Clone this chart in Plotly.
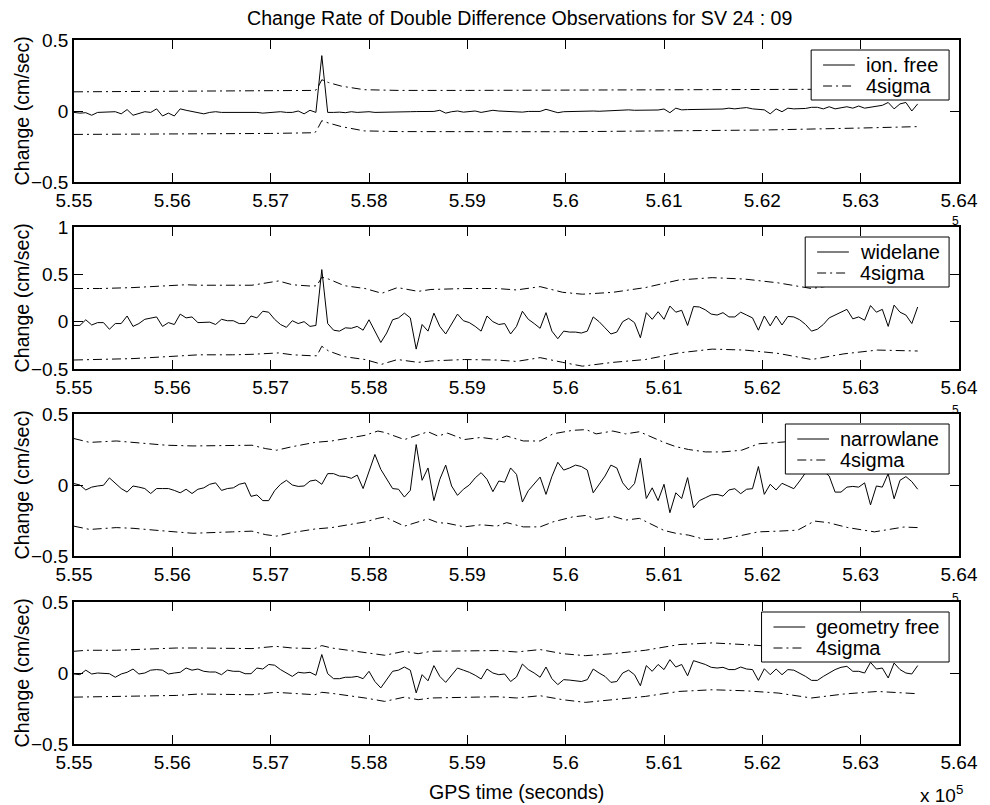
import numpy as np
import plotly.graph_objects as go

# ---- epochs: one sample every 60 s starting at 555000 s GPS time ----
T0 = 555000
DT = 60

# ---- change-rate series (cm/sec) ----
ion_free = [
    -0.01, -0.015, -0.012, -0.03, -0.01, -0.01, -0.005, -0.005, -0.02, 0.01,
    -0.03, -0.015, -0.005, -0.01, 0.015, -0.035, -0.015, -0.035, 0.015, 0.005,
    -0.005, -0.015, -0.02, -0.01, -0.005, -0.01, -0.01, -0.005, -0.01, -0.01,
    -0.005, -0.01, -0.015, -0.01, -0.01, -0.005, -0.01, -0.01, 0.0, -0.02,
    0.005, -0.01, 0.39, -0.01, -0.01, -0.008, -0.012, -0.005, -0.01, -0.008,
    -0.005, -0.01, -0.01, -0.008, -0.005, -0.006, -0.005, -0.005, -0.004, -0.004,
    -0.003, -0.003, 0.005, -0.015, -0.005, 0.0, -0.008, -0.003, 0.0, -0.01,
    -0.005, 0.005, 0.0, -0.002, -0.005, -0.005, -0.008, -0.003, -0.002, -0.003,
    0.012, 0.0, -0.012, -0.005, -0.003, -0.002, -0.003, -0.002, 0.0, -0.002,
    0.0, 0.003, 0.0, 0.004, 0.008, 0.005, 0.006, 0.003, 0.005, 0.007,
    0.014, -0.012, 0.02, 0.008, 0.01, 0.01, 0.012, 0.01, 0.012, 0.015,
    0.014, 0.02, 0.015, 0.02, 0.024, 0.015, 0.01, 0.008, -0.02, 0.015,
    -0.005, 0.02, 0.015, 0.015, 0.018, 0.026, 0.026, 0.015, 0.03, 0.015,
    0.02, 0.03, 0.02, 0.035, 0.02, 0.025, 0.03, 0.04, 0.06, 0.015,
    0.05, 0.06, 0.0, 0.05,
]

widelane = [
    -0.04, -0.04, 0.02, -0.035, -0.01, -0.01, -0.08, -0.02, -0.02, 0.06,
    -0.05, -0.02, 0.025, 0.035, 0.05, -0.05, -0.01, -0.03, 0.08, 0.04,
    0.05, -0.01, -0.01, -0.005, -0.03, 0.025, 0.01, 0.01, -0.02, -0.02,
    0.06, 0.04, 0.11, 0.1, 0.025, -0.03, -0.06, 0.01, -0.02, 0.0,
    -0.05, -0.04, 0.55, -0.02, -0.09, -0.1, -0.065, -0.07, -0.05, -0.09,
    0.02, -0.1, -0.22, -0.12, 0.02, 0.04, 0.09, 0.04, -0.29, -0.03,
    -0.1, 0.09, -0.05, -0.13, -0.03, 0.08, 0.01, -0.01, -0.05, -0.1,
    0.06, 0.0, -0.03, -0.02, -0.13, -0.05, 0.11, 0.025, -0.02, -0.07,
    0.095, -0.1, -0.18, -0.1, -0.11, -0.11, -0.12, -0.1, 0.05, 0.0,
    -0.065, -0.13, -0.11, 0.0, 0.035, -0.01, -0.17, 0.095, 0.025, 0.105,
    0.025, 0.165, 0.1, 0.12, -0.04, 0.16, 0.155, 0.125, 0.08, 0.07,
    0.095, 0.05, 0.05, 0.1, 0.07, 0.04, -0.09, 0.06, -0.045, 0.06,
    -0.035, 0.055, 0.05, 0.02, -0.03, -0.1, -0.08, -0.03, 0.04, 0.07,
    0.095, 0.13, 0.03, 0.05, 0.015, 0.17, 0.1, 0.13, -0.05, 0.175,
    0.1, 0.07, -0.02, 0.155,
]

narrowlane = [
    0.01, 0.0, -0.035, -0.015, -0.007, -0.002, 0.05, 0.015, -0.025, -0.05,
    -0.007, -0.015, -0.025, -0.06, -0.025, -0.025, -0.025, -0.038, -0.055, -0.03,
    -0.06, -0.03, -0.02, 0.005, 0.015, -0.038, -0.025, -0.02, 0.005, 0.015,
    -0.08, -0.07, -0.11, -0.11, -0.04, 0.005, 0.033, 0.0, -0.01, -0.007,
    0.028, 0.035, 0.005, 0.08, 0.08, 0.063, 0.06, 0.047, 0.07, -0.025,
    0.1, 0.215, 0.11, 0.04, -0.025, -0.03, -0.085, -0.038, 0.285, 0.033,
    0.12, -0.11, 0.04, 0.14, -0.007, -0.073, -0.03, 0.0, 0.05, 0.087,
    0.04, -0.047,
    0.028, 0.02, 0.12, 0.075, -0.12, -0.04, 0.01, 0.056, -0.066, 0.06,
    0.16, 0.105, 0.12, 0.14, 0.13, 0.105, -0.055, 0.0, 0.063, 0.14,
    0.12, 0.015, -0.035, 0.01, 0.19, -0.095, -0.02, -0.11, 0.005, -0.195,
    -0.055, -0.095, 0.052, -0.16, -0.11, -0.09, -0.07, -0.066, -0.078, -0.035,
    -0.026, -0.061, -0.03, -0.026, 0.13, -0.066, 0.005, -0.035, 0.012, -0.007,
    -0.026, 0.028, 0.087, 0.1, 0.14, 0.1, 0.063, -0.05, -0.05, -0.015,
    -0.01, -0.015, 0.015, -0.14, -0.007, -0.015, 0.08, -0.097, 0.033, 0.059,
    0.024, -0.03,
]

geometry_free = [
    -0.007, -0.012, 0.02, -0.007, 0.0, 0.0, -0.005, -0.03, -0.007, 0.005,
    0.028, -0.007, 0.0, 0.02, 0.024, 0.02, -0.007, 0.0, 0.005, 0.035,
    0.02, 0.028, 0.012, 0.007, 0.007, -0.012, 0.02, 0.012, 0.012, -0.005,
    -0.005, 0.035, 0.028, 0.06, 0.055, 0.024, 0.0, -0.024, 0.005, 0.0,
    0.005, -0.016, 0.13, -0.005, -0.04, -0.04, -0.03, -0.03, -0.024, -0.04,
    0.012, -0.06, -0.105, -0.047, 0.012, 0.02, 0.042, 0.02, -0.14, -0.012,
    -0.055, 0.052, -0.024, -0.066, -0.012, 0.035, 0.02, 0.005, -0.016, -0.042,
    0.028, 0.0,
    -0.012, -0.007, -0.06, -0.028, 0.063, 0.024, 0.0, -0.03, 0.042, -0.04,
    -0.082, -0.047, -0.05, -0.055, -0.06, -0.047, 0.028, 0.0, -0.024, -0.066,
    -0.06, 0.0, 0.02, -0.012, -0.09, 0.052, 0.012, 0.06, 0.024, 0.094,
    0.042, 0.06, -0.02, 0.087, 0.075, 0.06, 0.04, 0.035, 0.04, 0.024,
    0.024, 0.042, 0.028, 0.024, -0.052, 0.03, -0.012, 0.028, -0.012, 0.024,
    0.02, 0.0, -0.024, -0.052, -0.052, -0.024, 0.0, 0.024, 0.04, 0.047,
    0.012, 0.012, 0.0, 0.075, 0.028, 0.035, -0.035, 0.07, 0.024, 0.0,
    -0.007, 0.052,
]

# ---- 4-sigma envelopes (knot times in seconds, bounds in cm/sec) ----
if_sig_t = [555000, 556000, 557000, 557450, 557470, 557520, 557590, 557720,
            557950, 558300, 559000, 560000, 561000, 562000, 563000, 563580]
if_sig_up = [0.135, 0.14, 0.142, 0.145, 0.153, 0.22, 0.2, 0.175,
             0.15, 0.145, 0.145, 0.148, 0.15, 0.152, 0.155, 0.155]
if_sig_lo = [-0.165, -0.163, -0.158, -0.153, -0.134, -0.068, -0.085, -0.11,
             -0.14, -0.145, -0.146, -0.146, -0.14, -0.134, -0.12, -0.11]

wl_sig_t = [555000, 555260, 555600, 555940, 556140, 556270, 556610, 556810,
            557080, 557220, 557420, 557470, 557520, 557590, 557750, 557960,
            558130, 558290, 558500, 558630, 558970, 559300, 559500, 559740,
            559970, 560170, 560480, 560810, 561150, 561490, 561820, 562160,
            562500, 562830, 563170, 563580]
wl_sig_up = [0.35, 0.35, 0.36, 0.38, 0.39, 0.385, 0.38, 0.385,
             0.43, 0.39, 0.375, 0.38, 0.47, 0.45, 0.38, 0.35,
             0.3, 0.36, 0.32, 0.34, 0.35, 0.35, 0.335, 0.37,
             0.31, 0.29, 0.31, 0.36, 0.44, 0.465, 0.45, 0.41,
             0.35, 0.4, 0.42, 0.42]
wl_sig_lo = [-0.405, -0.4, -0.39, -0.37, -0.36, -0.35, -0.35, -0.345,
             -0.33, -0.35, -0.36, -0.36, -0.26, -0.31, -0.37, -0.4,
             -0.45, -0.4, -0.43, -0.415, -0.4, -0.405, -0.42, -0.38,
             -0.43, -0.47, -0.43, -0.4, -0.33, -0.29, -0.3, -0.335,
             -0.4, -0.34, -0.3, -0.31]

nl_sig_t = [555000, 555160, 555430, 555600, 555940, 556210, 556610, 556810,
            556950, 557060, 557220, 557450, 557620, 557960, 558090, 558160,
            558360, 558600, 558700, 558800, 558970, 559140, 559300, 559400,
            559570, 559740, 559870, 560070, 560210, 560310, 560480, 560610,
            560750, 560880, 561000, 561120, 561250, 561420, 561600, 561790,
            561960, 562160, 562360, 562530, 562670, 562870, 563140, 563270,
            563440, 563580]
nl_sig_up = [0.327, 0.3, 0.31, 0.3, 0.28, 0.275, 0.28, 0.28,
             0.256, 0.245, 0.27, 0.3, 0.31, 0.35, 0.38, 0.37,
             0.32, 0.375, 0.345, 0.365, 0.32, 0.335, 0.32, 0.345,
             0.31, 0.31, 0.36, 0.385, 0.39, 0.36, 0.38, 0.36,
             0.375, 0.335, 0.3, 0.27, 0.25, 0.233, 0.233, 0.245,
             0.29, 0.3, 0.31, 0.36, 0.33, 0.3, 0.28, 0.29,
             0.3, 0.3]
nl_sig_lo = [-0.29, -0.313, -0.3, -0.305, -0.325, -0.34, -0.33, -0.325,
             -0.35, -0.36, -0.335, -0.31, -0.3, -0.26, -0.235, -0.225,
             -0.29, -0.238, -0.265, -0.27, -0.295, -0.28, -0.29, -0.265,
             -0.295, -0.295, -0.26, -0.225, -0.214, -0.242, -0.22, -0.247,
             -0.235, -0.277, -0.32, -0.34, -0.353, -0.384, -0.38, -0.355,
             -0.33, -0.325, -0.318, -0.254, -0.265, -0.3, -0.33, -0.315,
             -0.296, -0.3]

gf_sig_t = [555000, 555130, 555430, 555770, 556040, 556270, 556610, 556810,
            557050, 557220, 557450, 557520, 557620, 557960, 558160, 558360,
            558500, 558630, 558970, 559300, 559500, 559740, 559970, 560200,
            560480, 560810, 561150, 561490, 561820, 562160, 562500, 562830,
            563170, 563580]
gf_sig_up = [0.153, 0.16, 0.16, 0.17, 0.176, 0.176, 0.172, 0.172,
             0.188, 0.176, 0.172, 0.193, 0.176, 0.146, 0.125, 0.153,
             0.136, 0.153, 0.158, 0.158, 0.148, 0.165, 0.136, 0.122,
             0.136, 0.16, 0.2, 0.212, 0.2, 0.185, 0.153, 0.18,
             0.195, 0.19]
gf_sig_lo = [-0.17, -0.168, -0.165, -0.163, -0.158, -0.148, -0.153, -0.153,
             -0.136, -0.143, -0.153, -0.136, -0.143, -0.176, -0.2, -0.17,
             -0.188, -0.176, -0.17, -0.167, -0.176, -0.16, -0.188, -0.207,
             -0.188, -0.165, -0.13, -0.118, -0.125, -0.141, -0.176, -0.148,
             -0.13, -0.146]

# ---- axis ticks ----
x_tickvals = [555000, 556000, 557000, 558000, 559000, 560000,
              561000, 562000, 563000, 564000]
x_ticktext = ["5.55", "5.56", "5.57", "5.58", "5.59", "5.6",
              "5.61", "5.62", "5.63", "5.64"]

panels = [
    dict(name="ion. free", y=ion_free, st=if_sig_t, up=if_sig_up, lo=if_sig_lo,
         yrange=[-0.5, 0.5], yt=[-0.5, 0, 0.5], ytt=["\u22120.5", "0", "0.5"]),
    dict(name="widelane", y=widelane, st=wl_sig_t, up=wl_sig_up, lo=wl_sig_lo,
         yrange=[-0.5, 1.0], yt=[-0.5, 0, 0.5, 1], ytt=["\u22120.5", "0", "0.5", "1"]),
    dict(name="narrowlane", y=narrowlane, st=nl_sig_t, up=nl_sig_up, lo=nl_sig_lo,
         yrange=[-0.5, 0.5], yt=[-0.5, 0, 0.5], ytt=["\u22120.5", "0", "0.5"]),
    dict(name="geometry free", y=geometry_free, st=gf_sig_t, up=gf_sig_up, lo=gf_sig_lo,
         yrange=[-0.5, 0.5], yt=[-0.5, 0, 0.5], ytt=["\u22120.5", "0", "0.5"]),
]
sigma_label = "4sigma"

for p in panels:
    assert len(p["y"]) == 144, (p["name"], len(p["y"]))
    assert len(p["st"]) == len(p["up"]) == len(p["lo"]), p["name"]

gps_time = T0 + DT * np.arange(len(ion_free))

FONT = "Liberation Sans, Arial, Helvetica, sans-serif"
DASHDOT = "9px,4px,2px,4px"
W, H = 990, 805
ML, MR, MT, MB = 74, 24, 40, 61
PW, PH = W - ML - MR, H - MT - MB


def px_x(px):
    """pixel column -> paper x"""
    return (px - ML) / PW


def px_y(py):
    """pixel row (from top) -> paper y"""
    return (H - MB - py) / PH


# pixel rows of each axes box (top, bottom)
boxes = [(40, 182), (227, 369), (414, 556), (602, 744)]
# boxed legend: (left pixel, top pixel) for each axes, right edge shared
legend_pos = [(817, 50), (811, 237), (791, 424), (767, 612)]
LEG_RIGHT, LEG_H = 956, 50

fig = go.Figure()
layout = dict(
    width=W, height=H,
    margin=dict(l=ML, r=MR, t=MT, b=MB),
    paper_bgcolor="white", plot_bgcolor="white",
    font=dict(family=FONT, size=19, color="black"),
    showlegend=False,
)
annotations = []
shapes = []

for i, p in enumerate(panels):
    k = "" if i == 0 else str(i + 1)
    xa, ya = "x" + k, "y" + k
    fig.add_trace(go.Scatter(
        x=gps_time, y=p["y"], xaxis=xa, yaxis=ya, mode="lines",
        line=dict(color="black", width=1), name=p["name"]))
    fig.add_trace(go.Scatter(
        x=p["st"], y=p["up"], xaxis=xa, yaxis=ya, mode="lines",
        line=dict(color="black", width=1, dash=DASHDOT), name=sigma_label))
    fig.add_trace(go.Scatter(
        x=p["st"], y=p["lo"], xaxis=xa, yaxis=ya, mode="lines",
        line=dict(color="black", width=1, dash=DASHDOT), name=sigma_label))

    top, bot = boxes[i]
    dom = [px_y(bot), px_y(top)]
    axis_common = dict(
        showline=True, linecolor="black", linewidth=1.5, mirror="ticks",
        ticks="inside", ticklen=9, tickwidth=1, tickcolor="black",
        showgrid=False, zeroline=False,
        tickfont=dict(family=FONT, size=19, color="black"),
    )
    layout["xaxis" + k] = dict(
        axis_common, domain=[0, 1], anchor=ya, range=[555000, 564000],
        tickmode="array", tickvals=x_tickvals, ticktext=x_ticktext)
    layout["yaxis" + k] = dict(
        axis_common, domain=dom, anchor=xa, range=p["yrange"],
        tickmode="array", tickvals=p["yt"], ticktext=p["ytt"])

    annotations.append(dict(
        text="Change (cm/sec)", textangle=-90, xref="paper", yref="paper",
        x=px_x(22), y=sum(dom) / 2, xanchor="center", yanchor="middle",
        showarrow=False, font=dict(family=FONT, size=19.6, color="black")))

    # boxed legend drawn on top of the axes
    lx, ly = legend_pos[i]
    shapes.append(dict(
        type="rect", xref="paper", yref="paper", layer="above",
        x0=px_x(lx), x1=px_x(LEG_RIGHT), y0=px_y(ly + LEG_H), y1=px_y(ly),
        line=dict(color="black", width=1), fillcolor="white"))
    for row, (label, dash) in enumerate([(p["name"], "solid"), (sigma_label, DASHDOT)]):
        ry = ly + 15 + row * 21
        shapes.append(dict(
            type="line", xref="paper", yref="paper", layer="above",
            x0=px_x(lx + 12), x1=px_x(lx + 44), y0=px_y(ry), y1=px_y(ry),
            line=dict(color="black", width=1, dash=dash)))
        annotations.append(dict(
            text=label, xref="paper", yref="paper",
            x=px_x(lx + 53), y=px_y(ry), xanchor="left", yanchor="middle",
            showarrow=False, font=dict(family=FONT, size=20, color="black")))

# exponent remnants peeking above the lower axes
for py in [221, 410, 598]:
    annotations.append(dict(
        text="5", xref="paper", yref="paper", x=px_x(962), y=px_y(py),
        xanchor="center", yanchor="middle", showarrow=False,
        font=dict(family=FONT, size=12, color="black")))

annotations += [
    dict(text="Change Rate of Double Difference Observations for SV 24 : 09",
         xref="paper", yref="paper", x=px_x(523), y=px_y(18),
         xanchor="center", yanchor="middle", showarrow=False,
         font=dict(family=FONT, size=19.6, color="black")),
    dict(text="GPS time (seconds)", xref="paper", yref="paper",
         x=px_x(520), y=px_y(792),
         xanchor="center", yanchor="middle", showarrow=False,
         font=dict(family=FONT, size=19.6, color="black")),
    dict(text="x 10<sup>5</sup>", xref="paper", yref="paper",
         x=px_x(972), y=px_y(794),
         xanchor="right", yanchor="middle", showarrow=False,
         font=dict(family=FONT, size=19, color="black")),
]
layout["annotations"] = annotations
layout["shapes"] = shapes

fig.update_layout(**layout)
fig.write_html("out.html")
